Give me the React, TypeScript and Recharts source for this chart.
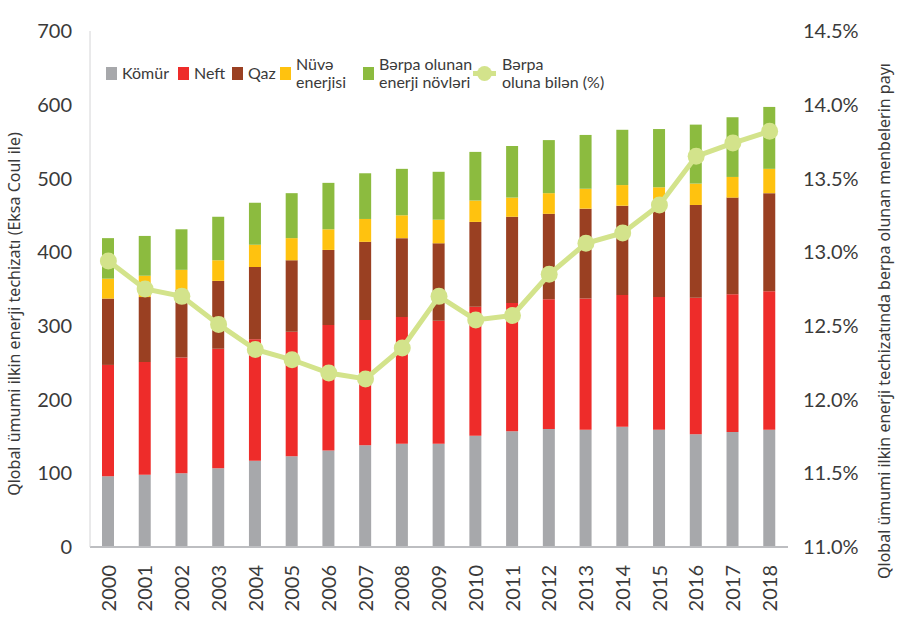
import { ComposedChart, Bar, Line, XAxis, YAxis } from "recharts";

// Global primary energy supply by source (EJ)
const years = ["2000", "2001", "2002", "2003", "2004", "2005", "2006", "2007", "2008", "2009", "2010", "2011", "2012", "2013", "2014", "2015", "2016", "2017", "2018"];
const komur = [96, 98, 100, 107, 117, 123, 131, 138, 140, 140, 151, 157, 160, 159, 163, 159, 153, 156, 159];
const neft = [151, 153, 157, 162, 165, 169, 170, 170, 172, 167, 175, 174, 176, 178, 179, 180, 185, 187, 188];
const qaz = [90, 88, 92, 92, 98, 97, 102, 106, 107, 105, 115, 117, 116, 122, 121, 121, 126, 131, 133];
const nuve = [27, 29, 27, 28, 30, 30, 28, 31, 31, 32, 29, 26, 28, 27, 28, 28, 29, 28, 33];
const berpa = [55, 54, 55, 59, 57, 61, 63, 62, 63, 65, 66, 70, 72, 73, 75, 79, 80, 81, 84];
// renewable share, %
const pay = [12.94, 12.75, 12.7, 12.51, 12.34, 12.27, 12.18, 12.14, 12.35, 12.7, 12.54, 12.57, 12.85, 13.06, 13.13, 13.32, 13.65, 13.74, 13.82];

const leftTicks = [0, 100, 200, 300, 400, 500, 600, 700];
const rightTicks = [11, 11.5, 12, 12.5, 13, 13.5, 14, 14.5];

const C = {
    komur: "#A7A8AB",
    neft: "#EE2C2A",
    qaz: "#9A4022",
    nuve: "#FFC20F",
    berpa: "#8CBB3F",
    pay: "#D3E38B",
};

const data = years.map((year, i) => ({
    year,
    komur: komur[i],
    neft: neft[i],
    qaz: qaz[i],
    nuve: nuve[i],
    berpa: berpa[i],
    pay: pay[i],
}));

const tickFont = "Lato, 'Open Sans', sans-serif";
const textColor = "#3a3a3a";

const YearTick = (props: any) => {
    const { x, y, payload } = props;
    const ty = y + 18;
    return (
        <text x={x} y={ty} transform={`rotate(-90 ${x} ${ty})`} textAnchor="end" dy="0.36em" fontSize={20} fill={textColor} fontFamily={tickFont}>
            {payload.value}
        </text>
    );
};

// legend squares + text, positioned to match the original
const legendItems = [
    { x: 106, color: C.komur, lines: ["Kömür"] },
    { x: 178, color: C.neft, lines: ["Neft"] },
    { x: 232, color: C.qaz, lines: ["Qaz"] },
    { x: 280, color: C.nuve, lines: ["Nüvə", "enerjisi"] },
    { x: 363, color: C.berpa, lines: ["Bərpa olunan", "enerji növləri"] },
];

function ChartLegend() {
    const textStyle = { position: "absolute" as const, fontSize: 16, lineHeight: "18px", color: textColor, fontFamily: tickFont, whiteSpace: "nowrap" as const };
    return (
        <>
            {legendItems.map((it) => (
                <div key={it.lines[0]}>
                    <div style={{ position: "absolute", left: it.x, top: 67, width: 11, height: 13, background: it.color }} />
                    <div style={{ ...textStyle, left: it.x + 16, top: it.lines.length === 1 ? 64 : 55 }}>
                        {it.lines.map((l) => (
                            <div key={l}>{l}</div>
                        ))}
                    </div>
                </div>
            ))}
            <div style={{ position: "absolute", left: 473, top: 71, width: 23, height: 5, background: C.pay }} />
            <div style={{ position: "absolute", left: 477, top: 66, width: 15, height: 15, borderRadius: "50%", background: C.pay }} />
            <div style={{ ...textStyle, left: 502, top: 55 }}>
                <div>Bərpa</div>
                <div>oluna bilən (%)</div>
            </div>
        </>
    );
}

export default function App() {
    const titleStyle = {
        position: "absolute" as const,
        height: 20,
        lineHeight: "20px",
        textAlign: "center" as const,
        transform: "rotate(-90deg)",
        fontSize: 16,
        color: textColor,
        fontFamily: "'Noto Sans', sans-serif",
        whiteSpace: "nowrap" as const,
    };
    return (
        <div style={{ position: "absolute", top: 0, left: 0, width: 898, height: 635, background: "#fff" }}>
            <ComposedChart width={898} height={635} data={data} margin={{ top: 31, right: 0, left: 0, bottom: 0 }}>
                <XAxis
                    dataKey="year"
                    height={88}
                    interval={0}
                    tickLine={false}
                    tickSize={0}
                    tickMargin={0}
                    axisLine={{ stroke: "#BDBEC1", strokeWidth: 2 }}
                    tick={<YearTick />}
                />
                <YAxis
                    yAxisId="left"
                    width={90}
                    domain={[0, 700]}
                    ticks={leftTicks}
                    interval={0}
                    tickLine={false}
                    tickSize={0}
                    tickMargin={18}
                    axisLine={{ stroke: "#D4D4D6", strokeWidth: 1 }}
                    tick={{ fontSize: 20, fill: textColor, fontFamily: tickFont }}
                />
                <YAxis
                    yAxisId="right"
                    orientation="right"
                    width={110}
                    domain={[11, 14.5]}
                    ticks={rightTicks}
                    interval={0}
                    tickLine={false}
                    tickSize={0}
                    tickMargin={15}
                    axisLine={false}
                    tickFormatter={(v: number) => `${v.toFixed(1)}%`}
                    tick={{ fontSize: 20, fill: textColor, fontFamily: tickFont }}
                />
                <Bar yAxisId="left" dataKey="komur" name="Kömür" stackId="s" fill={C.komur} barSize={12} isAnimationActive={false} />
                <Bar yAxisId="left" dataKey="neft" name="Neft" stackId="s" fill={C.neft} barSize={12} isAnimationActive={false} />
                <Bar yAxisId="left" dataKey="qaz" name="Qaz" stackId="s" fill={C.qaz} barSize={12} isAnimationActive={false} />
                <Bar yAxisId="left" dataKey="nuve" name="Nüvə enerjisi" stackId="s" fill={C.nuve} barSize={12} isAnimationActive={false} />
                <Bar yAxisId="left" dataKey="berpa" name="Bərpa olunan enerji növləri" stackId="s" fill={C.berpa} barSize={12} isAnimationActive={false} />
                <Line
                    yAxisId="right"
                    type="linear"
                    dataKey="pay"
                    name="Bərpa oluna bilən (%)"
                    stroke={C.pay}
                    strokeWidth={5}
                    dot={{ r: 8.5, fill: C.pay, stroke: "none" }}
                    activeDot={false}
                    isAnimationActive={false}
                />
            </ComposedChart>
            <ChartLegend />
            <div style={{ ...titleStyle, left: 14 - 250, top: 314 - 10, width: 500 }}>
                Qlobal ümumi ilkin enerji techizatı (Eksa Coul ile)
            </div>
            <div style={{ ...titleStyle, left: 884 - 330, top: 321 - 10, width: 660 }}>
                Qlobal ümumi ilkin enerji techizatında berpa olunan menbelerin payı
            </div>
        </div>
    );
}
